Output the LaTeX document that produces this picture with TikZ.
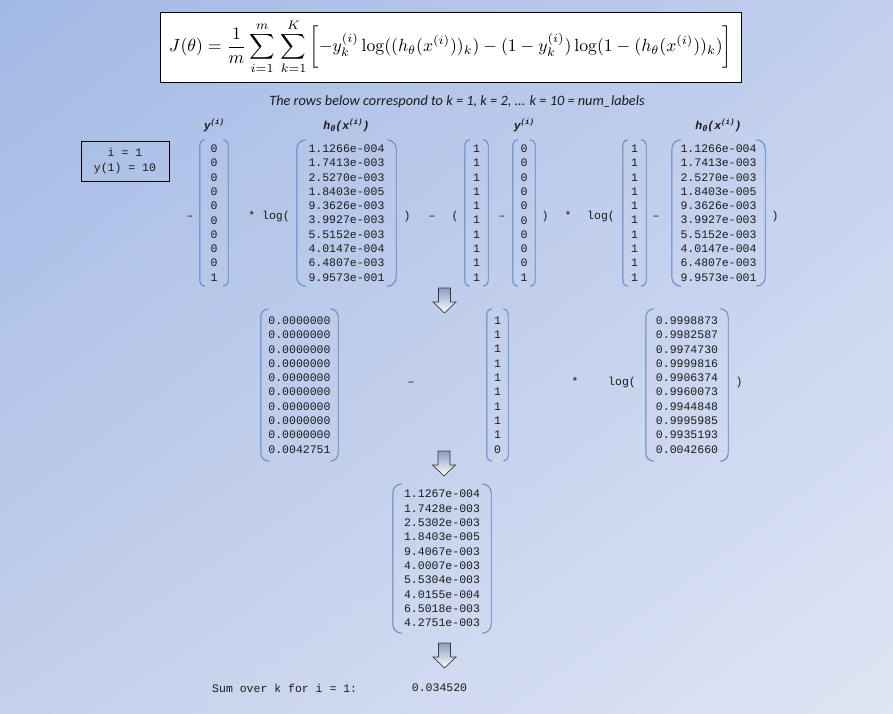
\documentclass[tikz,border=0pt]{standalone}
\usepackage{amsmath}
\usepackage{graphicx}
\usepackage{fontspec}
\usetikzlibrary{shadings}
\newfontfamily\monofnt{Liberation Mono}
\newfontfamily\carlito{Carlito}
\definecolor{bgA}{HTML}{A2B9E4}
\definecolor{bgB}{HTML}{C2CFEE}
\definecolor{bgC}{HTML}{C4D0EC}
\definecolor{bgD}{HTML}{DEE5F4}
\definecolor{brkblue}{HTML}{5A84C0}
\definecolor{arrtop}{HTML}{8A9CC0}
\definecolor{arrline}{HTML}{3A3A3A}
\definecolor{txt}{HTML}{1A1A1A}
\newcommand\supI{\raisebox{4.5pt}{\fontsize{7.5}{8}\selectfont(i)}}
\newcommand\subTh{\raisebox{-2.5pt}{\fontsize{8.5}{9}\selectfont θ}}
\tikzset{
  mono/.style={font=\monofnt\fontsize{11.5}{14.3}\selectfont, text=txt, inner sep=0pt},
  matbox/.style={mono, align=center, minimum height=#1},
  op/.style={mono, anchor=base},
  lbl/.style={font=\monofnt\bfseries\itshape\fontsize{11.5}{13}\selectfont, text=txt, inner sep=0pt, anchor=base},
  brk/.style={draw=brkblue, line width=0.9pt},
  downarrow/.pic={
    \shade[top color=arrtop, bottom color=white, draw=arrline, line width=0.7pt]
      (-6,0) -- (6,0) -- (6,14) -- (11.5,14) -- (0,25) -- (-11.5,14) -- (-6,14) -- cycle;
  }
}
\newcommand\brackets[2]{%
  \draw[brk, rounded corners=#2] ([xshift=#2]#1.north west) -- (#1.north west) -- (#1.south west) -- ([xshift=#2]#1.south west);
  \draw[brk, rounded corners=#2] ([xshift=-#2]#1.north east) -- (#1.north east) -- (#1.south east) -- ([xshift=-#2]#1.south east);
}
\begin{document}
\begin{tikzpicture}[x=1pt,y=-1pt]
\useasboundingbox (0,0) rectangle (893,713);
\shade[upper left=bgA, upper right=bgB, lower left=bgC, lower right=bgD] (0,0) rectangle (893,713);

% formula
\node[draw=black, fill=white, line width=0.9pt, minimum width=581, minimum height=70, inner sep=0pt] (fbox) at (450.5,47) {};
\node[inner sep=0pt] (formula) at (fbox.center) {\resizebox{563pt}{!}{$\displaystyle J(\theta) = \frac{1}{m}\sum_{i=1}^{m}\,\sum_{k=1}^{K}\,\biggl[-y_k^{(i)}\log((h_\theta(x^{(i)}))_k)-(1-y_k^{(i)})\log(1-(h_\theta(x^{(i)}))_k)\biggr]$}};

\node[inner sep=0pt, text=txt, font=\carlito\itshape\fontsize{14.3}{16}\selectfont] (rowsnote) at (457,102) {The rows below correspond to k = 1, k = 2, ... k = 10 = num\_labels};

% info box
\node[draw=black, line width=0.9pt, mono, align=center, minimum width=88, minimum height=40] (ibox) at (125,161) {i = 1\\y(1) = 10};

% row 1
\node[matbox=146, minimum width=28] (m1) at (214,213) {0\\0\\0\\0\\0\\0\\0\\0\\0\\1};
\node[matbox=146, minimum width=99] (m2) at (346.5,213) {1.1266e-004\\1.7413e-003\\2.5270e-003\\1.8403e-005\\9.3626e-003\\3.9927e-003\\5.5152e-003\\4.0147e-004\\6.4807e-003\\9.9573e-001};
\node[matbox=146, minimum width=23] (m3) at (476.5,213) {1\\1\\1\\1\\1\\1\\1\\1\\1\\1};
\node[matbox=146, minimum width=22] (m4) at (524,213) {0\\0\\0\\0\\0\\0\\0\\0\\0\\1};
\node[matbox=146, minimum width=23] (m5) at (634.5,213) {1\\1\\1\\1\\1\\1\\1\\1\\1\\1};
\node[matbox=146, minimum width=93] (m6) at (718.5,213) {1.1266e-004\\1.7413e-003\\2.5270e-003\\1.8403e-005\\9.3626e-003\\3.9927e-003\\5.5152e-003\\4.0147e-004\\6.4807e-003\\9.9573e-001};
\brackets{m1}{5}
\brackets{m2}{9}
\brackets{m3}{5}
\brackets{m4}{5}
\brackets{m5}{5}
\brackets{m6}{9}

\node[lbl] (l1) at (214,129) {y\supI};
\node[lbl] (l2) at (346.5,129) {h\subTh(x\supI)};
\node[lbl] (l4) at (524,129) {y\supI};
\node[lbl] (l6) at (718.5,129) {h\subTh(x\supI)};

\node[op] (o1) at (190,219) {–};
\node[op] (o2) at (269,219) {* log(};
\node[op] (o3) at (407,219) {)};
\node[op] (o4) at (432,219) {–};
\node[op] (o5) at (455,219) {(};
\node[op] (o6) at (502,219) {–};
\node[op] (o7) at (545,219) {)};
\node[op] (o8) at (568,219) {*};
\node[op] (o9) at (601,219) {log(};
\node[op] (o10) at (656,219) {–};
\node[op] (o11) at (775,219) {)};

\pic at (444.5,288) {downarrow};

% row 2
\node[matbox=152, minimum width=77] (mA) at (299.5,385) {0.0000000\\0.0000000\\0.0000000\\0.0000000\\0.0000000\\0.0000000\\0.0000000\\0.0000000\\0.0000000\\0.0042751};
\node[matbox=152, minimum width=21] (mB) at (497.5,385) {1\\1\\1\\1\\1\\1\\1\\1\\1\\0};
\node[matbox=152, minimum width=82] (mC) at (687,385) {0.9998873\\0.9982587\\0.9974730\\0.9999816\\0.9906374\\0.9960073\\0.9944848\\0.9995985\\0.9935193\\0.0042660};
\brackets{mA}{8}
\brackets{mB}{5}
\brackets{mC}{8}
\node[op] (p1) at (411,385) {–};
\node[op] (p2) at (575,385) {*};
\node[op] (p3) at (622,385) {log(};
\node[op] (p4) at (739,385) {)};

\pic at (444,451) {downarrow};

% row 3
\node[matbox=149, minimum width=98] (mD) at (442,558.5) {1.1267e-004\\1.7428e-003\\2.5302e-003\\1.8403e-005\\9.4067e-003\\4.0007e-003\\5.5304e-003\\4.0155e-004\\6.5018e-003\\4.2751e-003};
\brackets{mD}{9}

\pic at (444.5,643) {downarrow};

\node[mono, anchor=west] (sumlbl) at (212,688) {Sum over k for i = 1:};
\node[mono] (sumval) at (439.5,688) {0.034520};
\end{tikzpicture}
\end{document}
